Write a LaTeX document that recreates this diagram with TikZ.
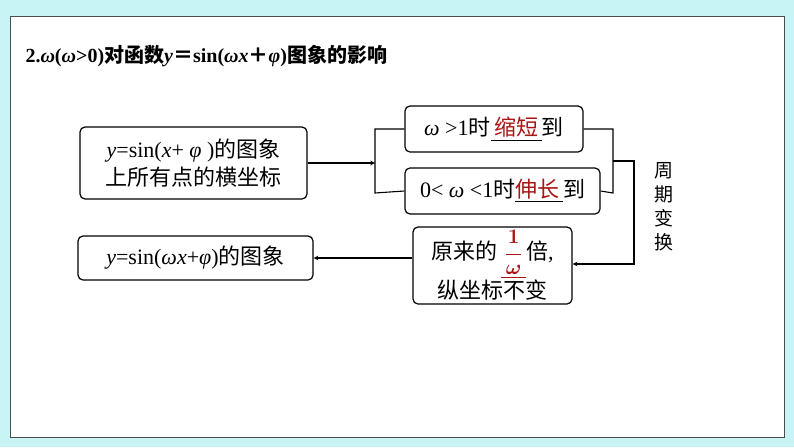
\documentclass[tikz,border=0pt]{standalone}
\usepackage{amsmath}
\usepackage{fontspec}
\newfontfamily\cjk{Noto Sans CJK SC}
\setmainfont{Liberation Serif}
\begin{document}
\begin{tikzpicture}[x=1pt,y=-1pt,
 bx/.style={draw,line width=1.2pt,rounded corners=5pt,inner sep=0pt},
 ln/.style={line width=1.1pt},
 ar/.style={line width=1.1pt,-stealth}]
\definecolor{bgc}{RGB}{200,244,246}
\definecolor{red}{RGB}{170,20,20}
\fill[bgc] (0,0) rectangle (794,447);
\draw[fill=white,draw=black!70] (10,16) rectangle (784,437);
\node[anchor=west,font=\bfseries\fontsize{20}{24}\selectfont] (t) at (22,56) {2.\textit{ω}(\textit{ω}>0){\cjk 对函数}\textit{y}{\cjk ＝}sin(\textit{ωx}{\cjk ＋}\textit{φ}){\cjk 图象的影响}};
\node[bx,minimum width=227,minimum height=72,align=center,font=\fontsize{22}{28}\selectfont] (A) at (193.5,163) {\textit{y}=sin(\textit{x}+ \textit{φ} ){\cjk 的图象}\\{\cjk 上所有点的横坐标}};
\node[bx,minimum width=178,minimum height=46,font=\fontsize{22}{24}\selectfont] (B) at (494,129) {\textit{ω} >1{\cjk 时}\underline{\,{\cjk\color{red}缩短}\,}{\cjk 到}};
\node[bx,minimum width=195,minimum height=46,font=\fontsize{22}{24}\selectfont] (C) at (502.5,191) {0< \textit{ω} <1{\cjk 时}\underline{{\cjk\color{red}伸长}\,}{\cjk 到}};
\node[bx,minimum width=159,minimum height=77,align=center,font=\fontsize{22}{30}\selectfont] (D) at (492.5,265.5) {{\cjk 原来的}\,$\underline{\,\color{red}\boldsymbol{\dfrac{1}{\omega}}\,}${\cjk 倍},\\{\cjk 纵坐标不变}};
\node[bx,minimum width=235,minimum height=44,font=\fontsize{22}{24}\selectfont] (E) at (195.5,258) {\textit{y}=sin(\textit{ωx}+\textit{φ}){\cjk 的图象}};
\node[align=center,font=\cjk\fontsize{19}{24}\selectfont] (V) at (664,207) {周\\期\\变\\换};
\coordinate (L1) at (375,129);
\coordinate (L2) at (375,193);
\coordinate (Lm) at (375,163);
\coordinate (R1) at (613,129);
\coordinate (R2) at (613,193);
\coordinate (Rm) at (613,161);
\coordinate (Q1) at (634,161);
\coordinate (Q2) at (634,264);
\draw[ar] (A.east |- Lm) -- (Lm);
\draw[ln] (B.west) -- (L1) -- (L2) -- (C.west);
\draw[ln] (B.east) -- (R1) -- (R2) -- (C.east);
\draw[ar] (Rm) -- (Q1) -- (Q2) -- (D.east |- Q2);
\draw[ar] (D.west |- E) -- (E.east);
\end{tikzpicture}
\end{document}
